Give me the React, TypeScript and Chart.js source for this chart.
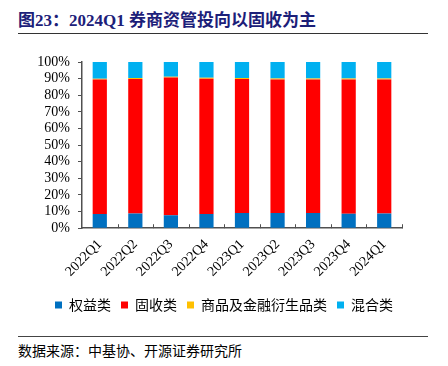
import React, { useEffect, useRef } from 'react';
import { Chart, registerables } from 'chart.js';

Chart.register(...registerables);

const categories = ['2022Q1', '2022Q2', '2022Q3', '2022Q4', '2023Q1', '2023Q2', '2023Q3', '2023Q4', '2024Q1'];
const equity = [8.5, 8.8, 7.8, 8.5, 9.1, 9.1, 9.1, 8.7, 8.9];
const fixedIncome = [81.0, 80.9, 82.9, 81.4, 80.7, 80.4, 80.4, 80.8, 80.6];
const commodity = [0.4, 0.6, 0.5, 0.6, 0.5, 0.6, 0.6, 0.6, 0.6];
const mixed = [10.1, 9.7, 8.8, 9.5, 9.7, 9.9, 9.9, 9.9, 9.9];
const seriesNames = ['权益类', '固收类', '商品及金融衍生品类', '混合类'];
const seriesColors = ['#0070C0', '#FF0000', '#FFC000', '#00B0F0'];
const yMin = 0;
const yMax = 100;
const yStep = 10;

const AXIS = '#505050';

const innerTicks = {
  id: 'innerTicks',
  afterDraw(chart: any) {
    const x = chart.scales.x;
    const { ctx, chartArea } = chart;
    const n = x.ticks.length;
    ctx.save();
    ctx.strokeStyle = AXIS;
    ctx.lineWidth = 1;
    for (let i = 1; i <= n; i++) {
      const px = i === n ? chartArea.right : (x.getPixelForTick(i - 1) + x.getPixelForTick(i)) / 2;
      const xp = Math.round(px) + 0.5;
      ctx.beginPath();
      ctx.moveTo(xp, chartArea.bottom);
      ctx.lineTo(xp, chartArea.bottom - 4);
      ctx.stroke();
    }
    ctx.restore();
  },
};

// centre the legend across the whole canvas rather than the padded box
const legendShift = {
  id: 'legendShift',
  afterLayout(chart: any) {
    const lg = chart.legend;
    if (!lg) return;
    const shift = (chart.width - (lg.left + lg.right)) / 2;
    lg.left += shift;
    lg.right += shift;
  },
};

export default function App() {
  const ref = useRef<HTMLCanvasElement>(null);
  useEffect(() => {
    document.body.style.margin = '0';
    const data = [equity, fixedIncome, commodity, mixed];
    const chart = new Chart(ref.current!, {
      type: 'bar',
      data: {
        labels: categories,
        datasets: data.map((d, i) => ({
          label: seriesNames[i],
          data: d,
          backgroundColor: seriesColors[i],
          borderWidth: 0,
          categoryPercentage: 1,
          barPercentage: 0.4,
        })),
      },
      options: {
        responsive: false,
        animation: false,
        layout: { padding: { top: 22, right: 46, left: 0, bottom: 8 } },
        plugins: {
          legend: {
            position: 'bottom',
            labels: {
              boxWidth: 7,
              boxHeight: 7,
              padding: 10,
              color: '#000',
              font: { family: '"Noto Sans CJK SC", sans-serif', size: 14 },
            },
          },
          tooltip: { enabled: false },
        },
        scales: {
          x: {
            stacked: true,
            grid: { display: false, drawTicks: false },
            border: { display: true, color: AXIS, width: 1.5 },
            ticks: {
              color: '#000',
              minRotation: 45,
              maxRotation: 45,
              padding: 8,
              autoSkip: false,
              font: { family: '"Liberation Serif", serif', size: 14 },
            },
          },
          y: {
            stacked: true,
            min: yMin,
            max: yMax,
            afterFit: (s: any) => { s.width = 82; },
            grid: { drawOnChartArea: false, drawTicks: true, tickLength: 4, color: AXIS, lineWidth: 1 },
            border: { display: true, color: AXIS, width: 1.5 },
            ticks: {
              stepSize: yStep,
              autoSkip: false,
              color: '#000',
              padding: 8,
              font: { family: '"Liberation Serif", serif', size: 14 },
              callback: (v: any) => v + '%',
            },
          },
        },
      },
      plugins: [innerTicks, legendShift],
    });
    return () => chart.destroy();
  }, []);

  return (
    <div style={{ position: 'absolute', left: 0, top: 0, width: 448, height: 366, background: '#fff', overflow: 'hidden' }}>
      <div
        style={{
          position: 'absolute', left: 18, top: 11, lineHeight: '20px', fontSize: 17, fontWeight: 'bold',
          color: '#1c2079', fontFamily: '"Liberation Serif", "Noto Sans CJK SC", serif', whiteSpace: 'nowrap',
        }}
      >
        图23：2024Q1 券商资管投向以固收为主
      </div>
      <div style={{ position: 'absolute', left: 18, top: 33, width: 410, borderTop: '1.5px solid #333' }} />
      <canvas ref={ref} width={448} height={290} style={{ position: 'absolute', left: 0, top: 40, width: 448, height: 290 }} />
      <div style={{ position: 'absolute', left: 18, top: 336, width: 410, borderTop: '1px solid #444' }} />
      <div
        style={{
          position: 'absolute', left: 18, top: 342, lineHeight: '17px', fontSize: 14, color: '#000',
          fontFamily: '"Noto Sans CJK SC", sans-serif', whiteSpace: 'nowrap',
        }}
      >
        数据来源：中基协、开源证券研究所
      </div>
    </div>
  );
}
